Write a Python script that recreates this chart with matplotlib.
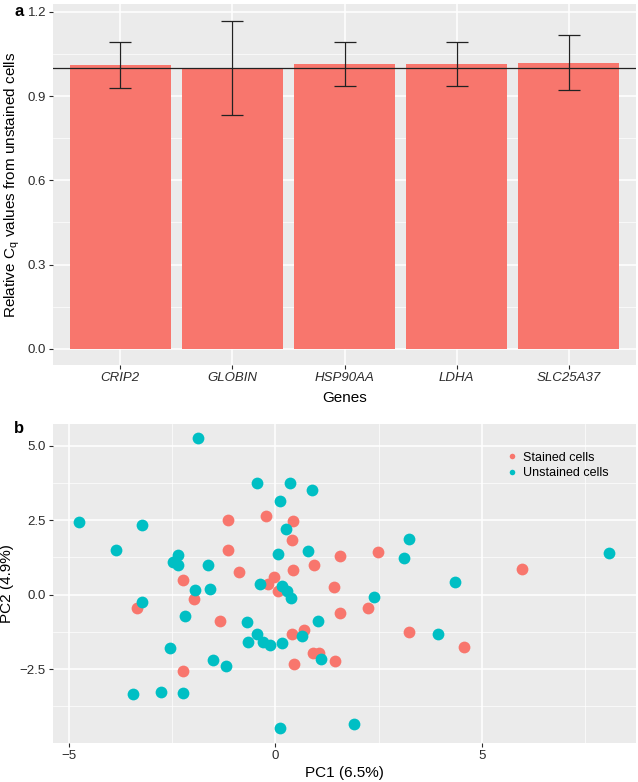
import numpy as np
import matplotlib
matplotlib.use('Agg')
import matplotlib.pyplot as plt
from matplotlib.lines import Line2D

plt.rcParams['font.family'] = ['Liberation Sans', 'DejaVu Sans']
plt.rcParams['mathtext.fontset'] = 'custom'
plt.rcParams['mathtext.rm'] = 'Liberation Sans'
plt.rcParams['mathtext.it'] = 'Liberation Sans:italic'

# panel a: relative Cq values
genes = ['CRIP2', 'GLOBIN', 'HSP90AA', 'LDHA', 'SLC25A37']
rel_cq = [1.012, 1.000, 1.014, 1.013, 1.018]
err_hi = [1.093, 1.168, 1.094, 1.092, 1.118]
err_lo = [0.930, 0.831, 0.935, 0.935, 0.920]

# panel b: PCA scores
stained_pc1 = [-1.15, -0.23, 0.43, 0.41, -1.14, 0.93, -0.88, 0.43, -2.24, -0.03,
               -0.19, 0.05, -1.97, 1.57, 2.48, 5.97, 1.41, -3.36, -1.33, 0.40,
               0.69, 0.92, 1.06, 0.45, -2.23, 1.57, 2.23, 3.23, 4.56, 1.45]
stained_pc2 = [2.50, 2.65, 2.48, 1.83, 1.49, 1.00, 0.75, 0.81, 0.49, 0.58,
               0.36, 0.13, -0.15, 1.28, 1.42, 0.87, 0.26, -0.46, -0.88, -1.32,
               -1.19, -1.95, -1.95, -2.32, -2.58, -0.61, -0.46, -1.27, -1.76, -2.23]
unstained_pc1 = [-1.88, -4.75, -3.23, -3.85, -2.35, -2.48, -2.35, -1.64, -1.94, -1.59,
                 -0.44, 0.34, 0.88, 0.11, 0.26, 0.79, 0.07, -0.37, 0.17, 0.29,
                 0.38, -3.22, 3.22, 3.10, 8.07, 4.35, 2.38, -2.20, -0.70, 1.04,
                 -0.45, 0.65, -0.66, -0.30, -0.13, 0.16, -2.55, 1.10, -1.50, -1.19,
                 -3.45, -2.78, -2.23, 0.12, 3.93, 1.90]
unstained_pc2 = [5.25, 2.43, 2.35, 1.50, 1.33, 1.08, 1.00, 1.00, 0.14, 0.17,
                 3.76, 3.76, 3.51, 3.15, 2.21, 1.46, 1.35, 0.37, 0.29, 0.11,
                 -0.11, -0.24, 1.88, 1.22, 1.38, 0.42, -0.08, -0.71, -0.93, -0.89,
                 -1.34, -1.40, -1.59, -1.60, -1.70, -1.62, -1.80, -2.18, -2.21, -2.41,
                 -3.34, -3.27, -3.31, -4.49, -1.32, -4.36]

RED = '#F8766D'
CYAN = '#00BFC4'
PANEL = '#EBEBEB'
TXT = '#2b2b2b'


def ggplot_style(ax):
    ax.set_facecolor(PANEL)
    for s in ax.spines.values():
        s.set_visible(False)
    ax.grid(which='major', color='white', linewidth=1.1)
    ax.grid(which='minor', color='white', linewidth=0.5)
    ax.set_axisbelow(True)
    ax.tick_params(which='major', length=3, width=0.8, color=TXT,
                   labelsize=9.5, labelcolor=TXT, pad=2)
    ax.tick_params(which='minor', length=0)


fig = plt.figure(figsize=(6.38, 7.82), dpi=100)

# ---- panel a
ax1 = fig.add_axes([0.083, 0.533, 0.914, 0.462])
ggplot_style(ax1)
x = np.arange(1, len(genes) + 1)
ax1.bar(x, rel_cq, width=0.9, color=RED, zorder=2)
yerr = [np.array(rel_cq) - np.array(err_lo), np.array(err_hi) - np.array(rel_cq)]
ax1.errorbar(x, rel_cq, yerr=yerr, fmt='none', ecolor='#222222',
             elinewidth=0.9, capsize=8, capthick=0.9, zorder=3)
ax1.axhline(1.0, color='#222222', linewidth=0.9, zorder=4)
ax1.set_xlim(0.4, 5.6)
ax1.set_ylim(-0.058, 1.228)
ax1.set_xticks(x)
ax1.set_xticklabels(genes, style='italic', fontsize=9.5)
ax1.set_yticks([0.0, 0.3, 0.6, 0.9, 1.2])
ax1.set_yticklabels(['0.0', '0.3', '0.6', '0.9', '1.2'])
ax1.set_yticks([0.15, 0.45, 0.75, 1.05], minor=True)
ax1.set_xlabel('Genes', fontsize=11, labelpad=5)
ax1.set_ylabel('Relative C$_{\\rm q}$ values from unstained cells', fontsize=11, labelpad=4)
fig.text(0.022, 0.985, 'a', fontsize=12, fontweight='bold', va='center', ha='left')

# ---- panel b
ax2 = fig.add_axes([0.0826, 0.050, 0.914, 0.408])
ggplot_style(ax2)
ax2.scatter(stained_pc1, stained_pc2, s=72, color=RED, linewidths=0, zorder=3)
ax2.scatter(unstained_pc1, unstained_pc2, s=72, color=CYAN, linewidths=0, zorder=3)
ax2.set_xlim(-5.39, 8.72)
ax2.set_ylim(-4.98, 5.73)
ax2.set_xticks([-5, 0, 5])
ax2.set_xticklabels(['\u22125', '0', '5'])
ax2.set_xticks([-2.5, 2.5, 7.5], minor=True)
ax2.set_yticks([-2.5, 0.0, 2.5, 5.0])
ax2.set_yticklabels(['\u22122.5', '0.0', '2.5', '5.0'])
ax2.set_yticks([-3.75, -1.25, 1.25, 3.75], minor=True)
ax2.set_xlabel('PC1 (6.5%)', fontsize=11, labelpad=3)
ax2.set_ylabel('PC2 (4.9%)', fontsize=11, labelpad=4)
fig.text(0.022, 0.452, 'b', fontsize=12, fontweight='bold', va='center', ha='left')

handles = [Line2D([], [], marker='o', linestyle='none', markersize=4,
                  markerfacecolor=RED, markeredgewidth=0),
           Line2D([], [], marker='o', linestyle='none', markersize=4,
                  markerfacecolor=CYAN, markeredgewidth=0)]
leg = ax2.legend(handles, ['Stained cells', 'Unstained cells'],
                 loc='upper left', bbox_to_anchor=(0.762, 0.94),
                 frameon=False, fontsize=9, handlelength=1.0,
                 handletextpad=0.35, labelspacing=0.3, borderpad=0.2)

fig.savefig('out.png', dpi=100)
